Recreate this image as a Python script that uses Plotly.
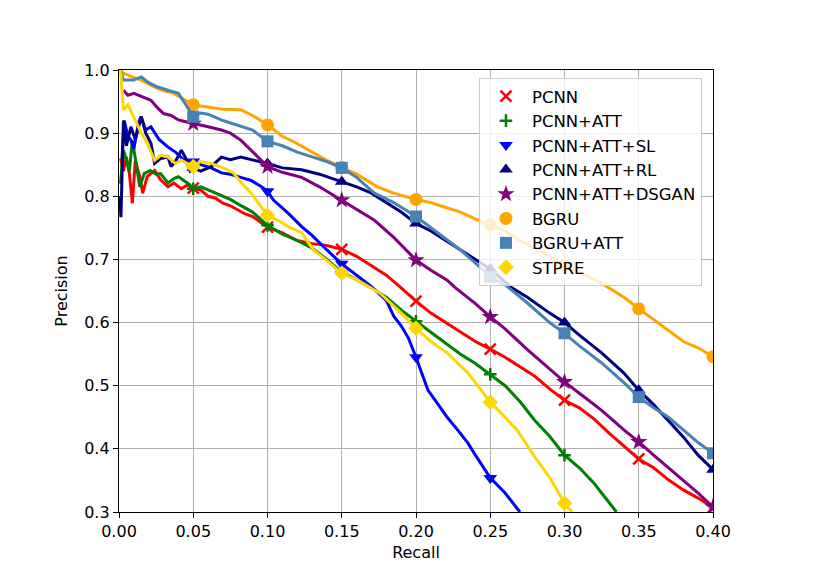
import numpy as np
import plotly.graph_objects as go

# precision / recall values
pcnn_r = [0.001, 0.003, 0.005, 0.007, 0.009, 0.011, 0.014, 0.016, 0.019, 0.024, 0.028, 0.033, 0.037,
          0.042, 0.046, 0.05, 0.055, 0.06, 0.065, 0.07, 0.075, 0.08, 0.085, 0.09, 0.095, 0.10, 0.11,
          0.12, 0.13, 0.14, 0.15, 0.16, 0.17, 0.18, 0.19, 0.20, 0.21, 0.22, 0.23, 0.24, 0.25, 0.26,
          0.27, 0.28, 0.29, 0.30, 0.31, 0.32, 0.33, 0.34, 0.35, 0.36, 0.37, 0.38, 0.39, 0.40]
pcnn_p = [0.86, 0.84, 0.862, 0.836, 0.789, 0.857, 0.831, 0.805, 0.831, 0.841, 0.826, 0.815, 0.821,
          0.812, 0.818, 0.813, 0.81, 0.80, 0.797, 0.789, 0.785, 0.778, 0.772, 0.768, 0.76, 0.751, 0.742,
          0.73, 0.725, 0.722, 0.716, 0.705, 0.69, 0.675, 0.655, 0.634, 0.615, 0.60, 0.585, 0.57, 0.558,
          0.545, 0.53, 0.515, 0.495, 0.477, 0.465, 0.447, 0.425, 0.405, 0.384, 0.37, 0.351, 0.335,
          0.322, 0.307]

att_r = [0.001, 0.003, 0.005, 0.007, 0.009, 0.011, 0.014, 0.017, 0.021, 0.025, 0.028, 0.033, 0.037,
         0.04, 0.046, 0.05, 0.055, 0.06, 0.065, 0.07, 0.075, 0.08, 0.09, 0.10, 0.11, 0.12, 0.13, 0.14,
         0.15, 0.16, 0.17, 0.18, 0.19, 0.20, 0.21, 0.22, 0.23, 0.24, 0.25, 0.26, 0.27, 0.28, 0.29, 0.30,
         0.31, 0.32, 0.33, 0.335]
att_p = [0.82, 0.873, 0.857, 0.84, 0.889, 0.857, 0.815, 0.836, 0.841, 0.835, 0.836, 0.821, 0.828,
         0.831, 0.821, 0.812, 0.815, 0.81, 0.805, 0.80, 0.795, 0.788, 0.775, 0.754, 0.74, 0.73, 0.718,
         0.70, 0.68, 0.668, 0.655, 0.64, 0.62, 0.602, 0.585, 0.568, 0.55, 0.535, 0.518, 0.50, 0.475,
         0.445, 0.42, 0.39, 0.37, 0.345, 0.315, 0.30]

sl_r = [0.002, 0.0035, 0.006, 0.008, 0.01, 0.013, 0.0148, 0.018, 0.0215, 0.027, 0.033, 0.038, 0.044,
        0.05, 0.055, 0.062, 0.069, 0.075, 0.082, 0.089, 0.096, 0.10, 0.104, 0.114, 0.123, 0.13, 0.14,
        0.15, 0.16, 0.17, 0.18, 0.185, 0.19, 0.195, 0.20, 0.208, 0.215, 0.221, 0.228, 0.235, 0.24,
        0.25, 0.26, 0.27]
sl_p = [0.86, 0.92, 0.895, 0.889, 0.875, 0.915, 0.926, 0.905, 0.91, 0.89, 0.878, 0.87, 0.857,
        0.855, 0.85, 0.845, 0.837, 0.835, 0.83, 0.825, 0.815, 0.808, 0.794, 0.773, 0.752, 0.738, 0.715,
        0.693, 0.675, 0.657, 0.635, 0.61, 0.595, 0.575, 0.545, 0.493, 0.47, 0.45, 0.43, 0.409, 0.39,
        0.354, 0.33, 0.30]

rl_r = [0.0005, 0.0013, 0.003, 0.005, 0.008, 0.011, 0.015, 0.018, 0.0215, 0.024, 0.028, 0.033, 0.035,
        0.038, 0.042, 0.045, 0.048, 0.05, 0.055, 0.062, 0.069, 0.075, 0.082, 0.09, 0.10, 0.11, 0.123,
        0.135, 0.15, 0.16, 0.17, 0.18, 0.19, 0.20, 0.21, 0.22, 0.23, 0.24, 0.25, 0.264, 0.275, 0.29,
        0.30, 0.31, 0.325, 0.34, 0.35, 0.36, 0.37, 0.38, 0.39, 0.40]
rl_p = [0.80, 0.767, 0.92, 0.88, 0.91, 0.89, 0.926, 0.90, 0.884, 0.852, 0.86, 0.862, 0.847,
        0.855, 0.873, 0.86, 0.84, 0.845, 0.84, 0.847, 0.862, 0.858, 0.862, 0.858, 0.852, 0.845, 0.842,
        0.835, 0.823, 0.815, 0.805, 0.79, 0.775, 0.757, 0.745, 0.73, 0.715, 0.70, 0.685, 0.656, 0.64,
        0.615, 0.60, 0.58, 0.552, 0.52, 0.493, 0.47, 0.445, 0.419, 0.39, 0.367]

dsgan_r = [0.003, 0.006, 0.01, 0.015, 0.0215, 0.026, 0.03, 0.035, 0.04, 0.045, 0.05, 0.06, 0.069,
           0.075, 0.082, 0.09, 0.10, 0.11, 0.123, 0.135, 0.15, 0.16, 0.172, 0.185, 0.20, 0.21, 0.221,
           0.226, 0.24, 0.25, 0.26, 0.275, 0.29, 0.30, 0.31, 0.325, 0.34, 0.35, 0.36, 0.374, 0.39, 0.40]
dsgan_p = [0.968, 0.96, 0.963, 0.958, 0.952, 0.94, 0.931, 0.928, 0.921, 0.918, 0.915, 0.91, 0.905,
           0.90, 0.889, 0.87, 0.847, 0.838, 0.83, 0.815, 0.794, 0.78, 0.762, 0.735, 0.699, 0.683, 0.667,
           0.656, 0.63, 0.609, 0.59, 0.557, 0.527, 0.506, 0.488, 0.461, 0.43, 0.411, 0.39, 0.362, 0.33,
           0.308]

bgru_r = [0.001, 0.003, 0.008, 0.015, 0.024, 0.03, 0.037, 0.043, 0.048, 0.05, 0.055, 0.062, 0.07,
          0.082, 0.09, 0.10, 0.11, 0.118, 0.13, 0.14, 0.15, 0.16, 0.174, 0.185, 0.20, 0.21, 0.219,
          0.23, 0.242, 0.25, 0.26, 0.27, 0.28, 0.29, 0.30, 0.31, 0.325, 0.34, 0.35, 0.36, 0.37, 0.38,
          0.39, 0.40]
bgru_p = [1.0, 0.995, 0.99, 0.984, 0.973, 0.967, 0.963, 0.955, 0.947, 0.945, 0.943, 0.941, 0.938,
          0.937, 0.928, 0.913, 0.895, 0.886, 0.87, 0.857, 0.846, 0.835, 0.815, 0.805, 0.795, 0.79,
          0.783, 0.775, 0.762, 0.755, 0.745, 0.73, 0.718, 0.705, 0.691, 0.68, 0.662, 0.64, 0.622,
          0.605, 0.588, 0.57, 0.56, 0.546]

bgru_att_r = [0.001, 0.003, 0.01, 0.015, 0.02, 0.026, 0.033, 0.04, 0.045, 0.05, 0.055, 0.06, 0.07,
              0.08, 0.09, 0.10, 0.11, 0.12, 0.13, 0.14, 0.15, 0.16, 0.172, 0.185, 0.20, 0.21, 0.221,
              0.23, 0.242, 0.25, 0.26, 0.275, 0.29, 0.30, 0.31, 0.325, 0.34, 0.35, 0.36, 0.37, 0.38,
              0.39, 0.40]
bgru_att_p = [1.0, 0.984, 0.984, 0.989, 0.98, 0.973, 0.968, 0.963, 0.945, 0.926, 0.932, 0.93, 0.92,
              0.912, 0.905, 0.887, 0.88, 0.87, 0.862, 0.855, 0.845, 0.83, 0.805, 0.79, 0.768, 0.75,
              0.73, 0.715, 0.69, 0.672, 0.66, 0.631, 0.60, 0.583, 0.563, 0.536, 0.505, 0.482, 0.465,
              0.45, 0.43, 0.41, 0.393]

stpre_r = [0.001, 0.003, 0.006, 0.01, 0.015, 0.019, 0.024, 0.028, 0.033, 0.038, 0.042, 0.05, 0.055,
           0.062, 0.07, 0.077, 0.083, 0.089, 0.10, 0.107, 0.114, 0.123, 0.131, 0.14, 0.15, 0.16, 0.176,
           0.19, 0.20, 0.21, 0.221, 0.235, 0.25, 0.26, 0.268, 0.277, 0.28, 0.29, 0.30, 0.305]
stpre_p = [1.0, 0.937, 0.945, 0.926, 0.9, 0.884, 0.857, 0.865, 0.862, 0.852, 0.857, 0.847, 0.855,
           0.852, 0.845, 0.837, 0.82, 0.805, 0.77, 0.762, 0.752, 0.742, 0.715, 0.698, 0.678, 0.668,
           0.646, 0.615, 0.591, 0.57, 0.552, 0.52, 0.474, 0.45, 0.43, 0.398, 0.387, 0.355, 0.314, 0.30]

# recall values where a marker sits on each curve
mark_recall = [0.05, 0.10, 0.15, 0.20, 0.25, 0.30, 0.35, 0.40]

# name, recall, precision, colour, symbol, marker size
series = [
    ("PCNN", pcnn_r, pcnn_p, "red", "x-thin", 11),
    ("PCNN+ATT", att_r, att_p, "green", "cross-thin", 9),
    ("PCNN+ATT+SL", sl_r, sl_p, "blue", "triangle-down", 12),
    ("PCNN+ATT+RL", rl_r, rl_p, "navy", "triangle-up", 12),
    ("PCNN+ATT+DSGAN", dsgan_r, dsgan_p, "purple", "star", 13),
    ("BGRU", bgru_r, bgru_p, "orange", "circle", 13),
    ("BGRU+ATT", bgru_att_r, bgru_att_p, "steelblue", "square", 12),
    ("STPRE", stpre_r, stpre_p, "gold", "diamond", 12),
]

fig = go.Figure()

for name, rec, prec, color, symbol, size in series:
    rec = np.array(rec)
    prec = np.array(prec)
    fig.add_trace(go.Scatter(
        x=rec, y=prec, mode="lines", line=dict(color=color, width=3),
        legendgroup=name, showlegend=False, hoverinfo="skip"
    ))
    # pick the points that fall on the marker positions (like markevery)
    keep = np.array([np.any(np.isclose(r, mark_recall)) for r in rec])
    thin = symbol.endswith("-thin")
    fig.add_trace(go.Scatter(
        x=rec[keep], y=prec[keep], mode="markers", name=name, legendgroup=name,
        marker=dict(symbol=symbol, size=size, color=color,
                    line=dict(color=color, width=2.5 if thin else 0))
    ))

axis_style = dict(
    showline=True, linecolor="black", linewidth=1.3, mirror=True,
    ticks="outside", ticklen=5, tickwidth=1.2, tickcolor="black",
    showgrid=True, gridcolor="#b0b0b0", gridwidth=1.3, zeroline=False,
    tickfont=dict(family="DejaVu Sans", size=16, color="black"),
)
title_font = dict(family="DejaVu Sans", size=16, color="black")

fig.update_layout(
    width=814, height=575,
    margin=dict(l=111, r=109, t=62, b=71),
    plot_bgcolor="white", paper_bgcolor="white",
    font=dict(family="DejaVu Sans", size=16, color="black"),
    xaxis=dict(range=[0, 0.4], dtick=0.05, tickformat=".2f",
               title=dict(text="Recall", standoff=6, font=title_font), **axis_style),
    yaxis=dict(range=[0.3, 1.0], dtick=0.1, tickformat=".1f",
               title=dict(text="Precision", standoff=12, font=title_font), **axis_style),
    legend=dict(x=0.606, y=0.982, xanchor="left", yanchor="top",
                bgcolor="rgba(255,255,255,0.8)", bordercolor="#cccccc", borderwidth=1,
                traceorder="grouped", tracegroupgap=0, itemwidth=42,
                font=dict(family="DejaVu Sans", size=16.5)),
    showlegend=True,
)

fig.write_html("out.html")
